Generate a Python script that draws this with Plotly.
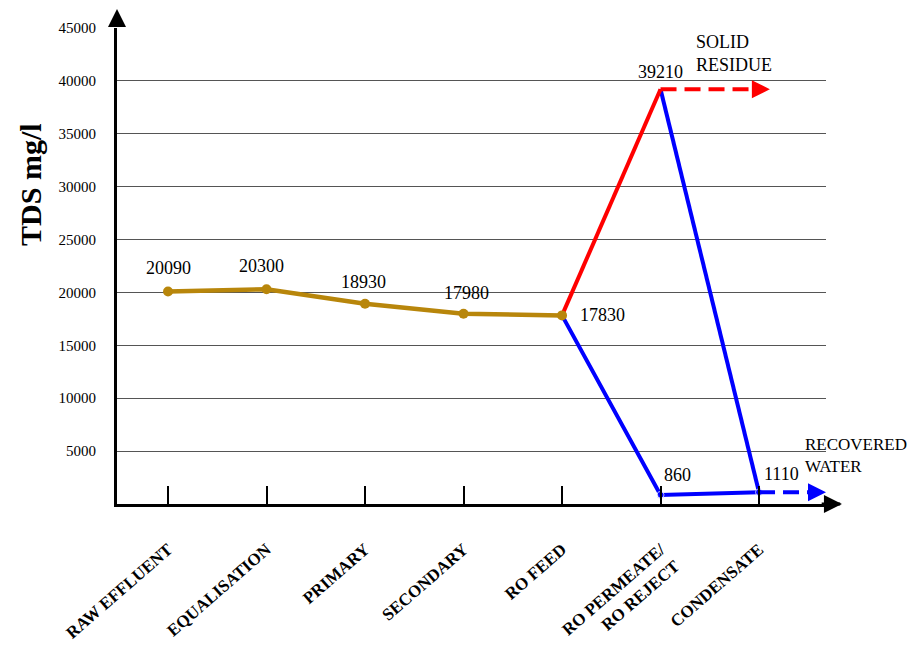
import plotly.graph_objects as go

# ---- data ----
stages = ["RAW EFFLUENT", "EQUALISATION", "PRIMARY", "SECONDARY", "RO FEED",
          "RO PERMEATE/<br>RO REJECT", "CONDENSATE"]
main_idx = [0, 1, 2, 3, 4]
main_tds = [20090, 20300, 18930, 17980, 17830]
reject_idx = [4, 5]
reject_tds = [17830, 39210]
permeate_idx = [4, 5, 6]
permeate_tds = [17830, 860, 1110]
evap_idx = [5, 6]
evap_tds = [39210, 1110]
y_ticks = [5000, 10000, 15000, 20000, 25000, 30000, 35000, 40000, 45000]

label_x = [0, 1, 2, 3, 4, 5, 5, 6]
label_y = [20090, 20300, 18930, 17980, 17830, 39210, 860, 1110]
label_dx = [0, -5, -2, 3, 40, 0, 17, 22]
label_dy = [23, 23, 22, 21, 0, 17, 20, 18]

GOLD = "#B8860B"
RED = "#FF0000"
BLUE = "#0000FF"
SERIF = "Liberation Serif"

fig = go.Figure()

fig.add_trace(go.Scatter(x=evap_idx, y=evap_tds, mode="lines",
                         line=dict(color=BLUE, width=4), cliponaxis=False))
fig.add_trace(go.Scatter(x=permeate_idx, y=permeate_tds, mode="lines+markers",
                         line=dict(color=BLUE, width=4),
                         marker=dict(size=[0, 7, 7], color=BLUE), cliponaxis=False))
fig.add_trace(go.Scatter(x=reject_idx, y=reject_tds, mode="lines",
                         line=dict(color=RED, width=4), cliponaxis=False))
fig.add_trace(go.Scatter(x=main_idx, y=main_tds, mode="lines+markers",
                         line=dict(color=GOLD, width=4.5),
                         marker=dict(size=10, color=GOLD), cliponaxis=False))

fig.add_trace(go.Scatter(x=[5, 5.98], y=[39210, 39210], mode="lines",
                         line=dict(color=RED, width=4, dash="16px,8px"), cliponaxis=False))
fig.add_trace(go.Scatter(x=[6, 6.56], y=[1110, 1110], mode="lines",
                         line=dict(color=BLUE, width=4, dash="16px,8px"), cliponaxis=False))

annotations = []
for xi, yi, dx, dy in zip(label_x, label_y, label_dx, label_dy):
    annotations.append(dict(x=xi, y=yi, text=f"{yi}", showarrow=False,
                            xshift=dx, yshift=dy,
                            font=dict(family=SERIF, size=18, color="black")))

annotations.append(dict(x=6.11, y=39210, ax=5.96, ay=39210, axref="x", ayref="y",
                        text="", showarrow=True, arrowhead=2, arrowsize=0.9,
                        arrowwidth=4, arrowcolor=RED))
annotations.append(dict(x=6.68, y=1110, ax=6.53, ay=1110, axref="x", ayref="y",
                        text="", showarrow=True, arrowhead=2, arrowsize=0.9,
                        arrowwidth=4, arrowcolor=BLUE))

annotations.append(dict(x=5.34, y=42600, text="SOLID<br>RESIDUE", showarrow=False,
                        xanchor="left", yanchor="middle", align="left",
                        font=dict(family=SERIF, size=18, color="black")))
annotations.append(dict(x=6.45, y=4600, text="RECOVERED<br>WATER", showarrow=False,
                        xanchor="left", yanchor="middle", align="left",
                        font=dict(family=SERIF, size=17, color="black")))

# axis arrow heads
annotations.append(dict(xref="paper", yref="paper", x=0, y=1.04, ax=0, ay=14,
                        text="", showarrow=True, arrowhead=2, arrowsize=1.2,
                        arrowwidth=3, arrowcolor="black"))
annotations.append(dict(xref="paper", yref="paper", x=1.0225, y=0, ax=-14, ay=0,
                        text="", showarrow=True, arrowhead=2, arrowsize=1.2,
                        arrowwidth=3, arrowcolor="black"))
annotations.append(dict(xref="paper", yref="paper", x=1.02, y=0, ax=-20, ay=0,
                        text="", showarrow=True, arrowhead=0,
                        arrowwidth=3, arrowcolor="black"))

# y-axis title
annotations.append(dict(xref="paper", yref="paper", x=-0.123, y=0.672,
                        xanchor="center", yanchor="middle",
                        text="<b>TDS mg/l</b>", textangle=-90, showarrow=False,
                        font=dict(family=SERIF, size=30, color="black")))

fig.update_layout(
    width=912, height=640,
    margin=dict(l=109, r=94, t=20, b=144, autoexpand=False),
    paper_bgcolor="white", plot_bgcolor="white",
    showlegend=False,
    font=dict(family=SERIF, color="black"),
    annotations=annotations,
    xaxis=dict(range=[-0.518, 6.68], tickvals=list(range(len(stages))),
               ticktext=[f"<b>{s}</b>" for s in stages],
               tickangle=-41, ticks="inside", ticklen=18, tickwidth=1.5,
               tickcolor="black", showline=True, linewidth=3, linecolor="black",
               showgrid=False, zeroline=False, ticklabelstandoff=26,
               automargin=False,
               tickfont=dict(family=SERIF, size=17, color="black")),
    yaxis=dict(range=[0, 45000], tickvals=y_ticks, ticks="", tickformat="d",
               showline=True, linewidth=3, linecolor="black",
               showgrid=True, gridcolor="#555555", gridwidth=1.3,
               zeroline=False, ticklabelstandoff=15, automargin=False,
               tickfont=dict(family=SERIF, size=15, color="black")),
)

fig.write_html("out.html")
